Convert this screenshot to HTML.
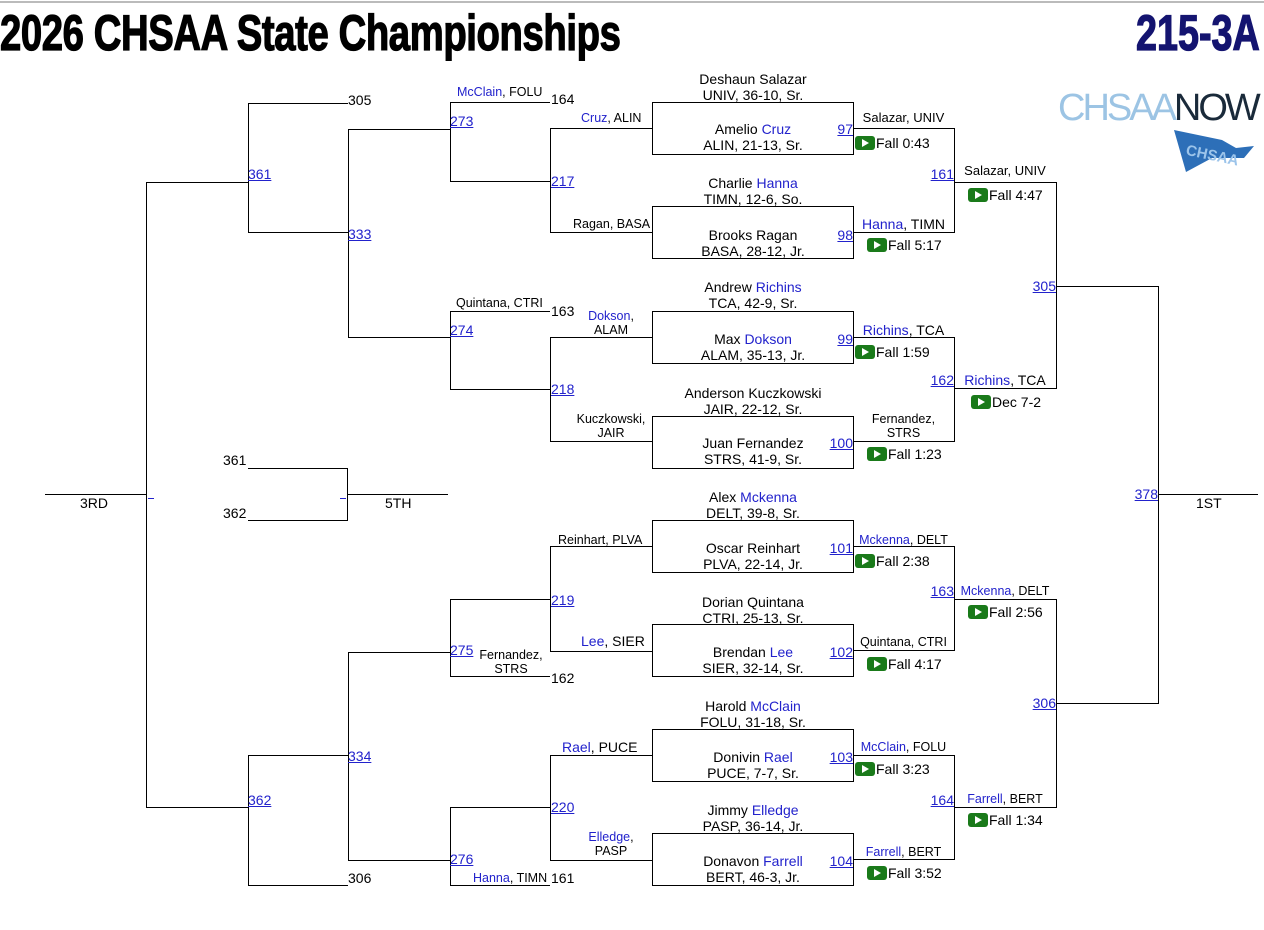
<!DOCTYPE html>
<html><head><meta charset="utf-8"><style>
*{margin:0;padding:0;box-sizing:border-box}
body{width:1264px;height:930px;background:#fff;position:relative;overflow:hidden;font-family:"Liberation Sans",Arial,sans-serif;font-size:14px;color:#000}
.h{position:absolute;height:1px;background:#000}
.v{position:absolute;width:1px;background:#000}
.t{position:absolute;line-height:16px;white-space:nowrap}
.c{text-align:center}
.r{text-align:right}
.s{font-size:12.5px;line-height:14px}
b{font-weight:normal;color:#2222cc}
a{color:#2222cc;text-decoration:underline}
.p{display:inline-block;width:20px;height:14px;background:#1a7a1a;border-radius:3px;position:relative;vertical-align:-2px;margin-right:1px}
.p:after{content:"";position:absolute;left:7px;top:3px;border-left:7px solid #fff;border-top:4px solid transparent;border-bottom:4px solid transparent}
.bx{position:absolute;border:1px solid #000;left:652px;width:202px;height:53px}
.ti{position:absolute;top:6px;font-size:50px;line-height:54px;font-weight:bold;font-family:'Liberation Sans Narrow','Liberation Sans',sans-serif;transform-origin:left;-webkit-text-stroke:1.3px currentColor;white-space:nowrap}
</style></head><body>
<div class="h" style="left:0;top:1px;width:1264px;background:#bbb;height:2px"></div>
<div class="ti" style="left:0;transform:scaleX(0.765);letter-spacing:-0.5px">2026 CHSAA State Championships</div>
<div class="ti" style="left:1136px;color:#141470;transform:scaleX(0.755)">215-3A</div>
<div class="t" style="left:1058px;top:88px;font-size:38px;line-height:40px;letter-spacing:-3px"><span style="color:#9cc4e4">CHSAA</span><span style="color:#1a2a3a">NOW</span></div>
<svg style="position:absolute;left:1172px;top:128px" width="86" height="46"><polygon points="2,2 50,12 64,20 82,18 72,30 40,30 14,44" fill="#2d6fb8"/><text x="14" y="30" font-family="Liberation Sans" font-weight="bold" font-size="15" fill="#9cc4ea" transform="rotate(12 30 25)">CHSAA</text></svg>

<!-- boxes -->
<div class="bx" style="top:102px"></div><div class="bx" style="top:206px"></div><div class="bx" style="top:311px"></div><div class="bx" style="top:416px"></div>
<div class="bx" style="top:520px"></div><div class="bx" style="top:624px"></div><div class="bx" style="top:729px"></div><div class="bx" style="top:833px"></div>

<!-- box texts -->
<div class="t c" style="left:652px;width:202px;top:71px">Deshaun Salazar</div><div class="t c" style="left:652px;width:202px;top:87px">UNIV, 36-10, Sr.</div>
<div class="t c" style="left:652px;width:202px;top:121px">Amelio <b>Cruz</b></div><div class="t c" style="left:652px;width:202px;top:137px">ALIN, 21-13, Sr.</div>
<div class="t c" style="left:652px;width:202px;top:175px">Charlie <b>Hanna</b></div><div class="t c" style="left:652px;width:202px;top:191px">TIMN, 12-6, So.</div>
<div class="t c" style="left:652px;width:202px;top:227px">Brooks Ragan</div><div class="t c" style="left:652px;width:202px;top:243px">BASA, 28-12, Jr.</div>
<div class="t c" style="left:652px;width:202px;top:279px">Andrew <b>Richins</b></div><div class="t c" style="left:652px;width:202px;top:295px">TCA, 42-9, Sr.</div>
<div class="t c" style="left:652px;width:202px;top:331px">Max <b>Dokson</b></div><div class="t c" style="left:652px;width:202px;top:347px">ALAM, 35-13, Jr.</div>
<div class="t c" style="left:652px;width:202px;top:385px">Anderson Kuczkowski</div><div class="t c" style="left:652px;width:202px;top:401px">JAIR, 22-12, Sr.</div>
<div class="t c" style="left:652px;width:202px;top:435px">Juan Fernandez</div><div class="t c" style="left:652px;width:202px;top:451px">STRS, 41-9, Sr.</div>
<div class="t c" style="left:652px;width:202px;top:489px">Alex <b>Mckenna</b></div><div class="t c" style="left:652px;width:202px;top:505px">DELT, 39-8, Sr.</div>
<div class="t c" style="left:652px;width:202px;top:540px">Oscar Reinhart</div><div class="t c" style="left:652px;width:202px;top:556px">PLVA, 22-14, Jr.</div>
<div class="t c" style="left:652px;width:202px;top:594px">Dorian Quintana</div><div class="t c" style="left:652px;width:202px;top:610px">CTRI, 25-13, Sr.</div>
<div class="t c" style="left:652px;width:202px;top:644px">Brendan <b>Lee</b></div><div class="t c" style="left:652px;width:202px;top:660px">SIER, 32-14, Sr.</div>
<div class="t c" style="left:652px;width:202px;top:698px">Harold <b>McClain</b></div><div class="t c" style="left:652px;width:202px;top:714px">FOLU, 31-18, Sr.</div>
<div class="t c" style="left:652px;width:202px;top:749px">Donivin <b>Rael</b></div><div class="t c" style="left:652px;width:202px;top:765px">PUCE, 7-7, Sr.</div>
<div class="t c" style="left:652px;width:202px;top:802px">Jimmy <b>Elledge</b></div><div class="t c" style="left:652px;width:202px;top:818px">PASP, 36-14, Jr.</div>
<div class="t c" style="left:652px;width:202px;top:853px">Donavon <b>Farrell</b></div><div class="t c" style="left:652px;width:202px;top:869px">BERT, 46-3, Jr.</div>

<!-- match numbers -->
<div class="t r" style="left:800px;width:53px;top:121px"><a>97</a></div>
<div class="t r" style="left:800px;width:53px;top:227px"><a>98</a></div>
<div class="t r" style="left:800px;width:53px;top:331px"><a>99</a></div>
<div class="t r" style="left:800px;width:53px;top:435px"><a>100</a></div>
<div class="t r" style="left:800px;width:53px;top:540px"><a>101</a></div>
<div class="t r" style="left:800px;width:53px;top:644px"><a>102</a></div>
<div class="t r" style="left:800px;width:53px;top:749px"><a>103</a></div>
<div class="t r" style="left:800px;width:53px;top:853px"><a>104</a></div>

<!-- round 2 -->
<div class="h" style="left:853px;top:128px;width:102px"></div><div class="h" style="left:853px;top:232px;width:102px"></div><div class="v" style="left:954px;top:128px;height:105px"></div>
<div class="h" style="left:853px;top:337px;width:102px"></div><div class="h" style="left:853px;top:441px;width:102px"></div><div class="v" style="left:954px;top:337px;height:105px"></div>
<div class="h" style="left:853px;top:546px;width:102px"></div><div class="h" style="left:853px;top:650px;width:102px"></div><div class="v" style="left:954px;top:546px;height:105px"></div>
<div class="h" style="left:853px;top:755px;width:102px"></div><div class="h" style="left:853px;top:859px;width:102px"></div><div class="v" style="left:954px;top:755px;height:105px"></div>

<div class="t c s" style="left:853px;width:101px;top:111px;font-size:13px">Salazar, UNIV</div><div class="t" style="left:855px;top:135px"><span class="p"></span>Fall 0:43</div>
<div class="t c" style="left:853px;width:101px;top:216px"><b>Hanna</b>, TIMN</div><div class="t" style="left:867px;top:237px"><span class="p"></span>Fall 5:17</div>
<div class="t c" style="left:853px;width:101px;top:322px"><b>Richins</b>, TCA</div><div class="t" style="left:855px;top:344px"><span class="p"></span>Fall 1:59</div>
<div class="t c s" style="left:853px;width:101px;top:412px">Fernandez,<br>STRS</div><div class="t" style="left:867px;top:446px"><span class="p"></span>Fall 1:23</div>
<div class="t c s" style="left:853px;width:101px;top:533px"><b>Mckenna</b>, DELT</div><div class="t" style="left:855px;top:553px"><span class="p"></span>Fall 2:38</div>
<div class="t c s" style="left:853px;width:101px;top:635px">Quintana, CTRI</div><div class="t" style="left:867px;top:656px"><span class="p"></span>Fall 4:17</div>
<div class="t c s" style="left:853px;width:101px;top:740px"><b>McClain</b>, FOLU</div><div class="t" style="left:855px;top:761px"><span class="p"></span>Fall 3:23</div>
<div class="t c s" style="left:853px;width:101px;top:845px"><b>Farrell</b>, BERT</div><div class="t" style="left:867px;top:865px"><span class="p"></span>Fall 3:52</div>

<div class="t r" style="left:900px;width:54px;top:166px"><a>161</a></div>
<div class="t r" style="left:900px;width:54px;top:372px"><a>162</a></div>
<div class="t r" style="left:900px;width:54px;top:583px"><a>163</a></div>
<div class="t r" style="left:900px;width:54px;top:792px"><a>164</a></div>

<!-- round 3 -->
<div class="h" style="left:954px;top:182px;width:102px"></div><div class="h" style="left:954px;top:388px;width:102px"></div><div class="v" style="left:1056px;top:182px;height:207px"></div>
<div class="h" style="left:954px;top:599px;width:102px"></div><div class="h" style="left:954px;top:807px;width:102px"></div><div class="v" style="left:1056px;top:599px;height:209px"></div>
<div class="t c s" style="left:954px;width:102px;top:164px;font-size:13px">Salazar, UNIV</div><div class="t" style="left:968px;top:187px"><span class="p"></span>Fall 4:47</div>
<div class="t c" style="left:954px;width:102px;top:372px"><b>Richins</b>, TCA</div><div class="t" style="left:971px;top:394px"><span class="p"></span>Dec 7-2</div>
<div class="t c s" style="left:954px;width:102px;top:584px"><b>Mckenna</b>, DELT</div><div class="t" style="left:968px;top:604px"><span class="p"></span>Fall 2:56</div>
<div class="t c s" style="left:954px;width:102px;top:792px"><b>Farrell</b>, BERT</div><div class="t" style="left:968px;top:812px"><span class="p"></span>Fall 1:34</div>
<div class="t r" style="left:1000px;width:56px;top:278px"><a>305</a></div>
<div class="t r" style="left:1000px;width:56px;top:695px"><a>306</a></div>

<!-- final -->
<div class="h" style="left:1056px;top:286px;width:102px"></div><div class="h" style="left:1056px;top:703px;width:102px"></div><div class="v" style="left:1158px;top:286px;height:418px"></div>
<div class="h" style="left:1158px;top:494px;width:100px"></div>
<div class="t r" style="left:1100px;width:58px;top:486px"><a>378</a></div>
<div class="t" style="left:1196px;top:495px">1ST</div>

<!-- consolation top -->
<div class="h" style="left:550px;top:128px;width:102px"></div><div class="h" style="left:550px;top:232px;width:102px"></div><div class="v" style="left:550px;top:128px;height:105px"></div>
<div class="h" style="left:450px;top:181px;width:100px"></div>
<div class="h" style="left:450px;top:102px;width:100px"></div><div class="v" style="left:450px;top:102px;height:80px"></div>
<div class="h" style="left:348px;top:129px;width:102px"></div>
<div class="h" style="left:550px;top:337px;width:102px"></div><div class="h" style="left:550px;top:441px;width:102px"></div><div class="v" style="left:550px;top:337px;height:105px"></div>
<div class="h" style="left:450px;top:389px;width:100px"></div>
<div class="h" style="left:450px;top:311px;width:100px"></div><div class="v" style="left:450px;top:311px;height:79px"></div>
<div class="h" style="left:348px;top:337px;width:102px"></div>
<div class="v" style="left:348px;top:129px;height:209px"></div>
<div class="h" style="left:248px;top:232px;width:100px"></div>
<div class="h" style="left:248px;top:103px;width:100px"></div><div class="v" style="left:248px;top:103px;height:130px"></div>
<div class="h" style="left:146px;top:182px;width:102px"></div>
<div class="v" style="left:146px;top:182px;height:626px"></div>
<div class="h" style="left:45px;top:494px;width:101px"></div>
<div class="h" style="left:148px;top:498px;width:6px;background:#2222cc"></div>
<div class="t" style="left:80px;top:495px">3RD</div>

<div class="t s" style="left:581px;top:111px"><b>Cruz</b>, ALIN</div>
<div class="t s" style="left:573px;top:217px">Ragan, BASA</div>
<div class="t c s" style="left:578px;width:66px;top:309px"><b>Dokson</b>,<br>ALAM</div>
<div class="t c s" style="left:570px;width:82px;top:412px">Kuczkowski,<br>JAIR</div>
<div class="t s" style="left:457px;top:85px"><b>McClain</b>, FOLU</div><div class="t" style="left:551px;top:91px">164</div>
<div class="t s" style="left:456px;top:296px">Quintana, CTRI</div><div class="t" style="left:551px;top:303px">163</div>
<div class="t" style="left:348px;top:92px">305</div>
<div class="t" style="left:450px;top:113px"><a>273</a></div>
<div class="t" style="left:551px;top:173px"><a>217</a></div>
<div class="t" style="left:348px;top:226px"><a>333</a></div>
<div class="t" style="left:450px;top:322px"><a>274</a></div>
<div class="t" style="left:551px;top:381px"><a>218</a></div>
<div class="t" style="left:248px;top:166px"><a>361</a></div>

<!-- 5th -->
<div class="h" style="left:248px;top:468px;width:100px"></div><div class="h" style="left:248px;top:520px;width:100px"></div><div class="v" style="left:347px;top:468px;height:53px"></div>
<div class="h" style="left:348px;top:494px;width:100px"></div>
<div class="h" style="left:340px;top:498px;width:6px;background:#2222cc"></div>
<div class="t" style="left:223px;top:452px">361</div><div class="t" style="left:223px;top:505px">362</div>
<div class="t" style="left:385px;top:495px">5TH</div>

<!-- consolation bottom -->
<div class="h" style="left:550px;top:546px;width:102px"></div><div class="h" style="left:550px;top:651px;width:102px"></div><div class="v" style="left:550px;top:546px;height:106px"></div>
<div class="h" style="left:450px;top:599px;width:100px"></div>
<div class="h" style="left:450px;top:676px;width:100px"></div><div class="v" style="left:450px;top:599px;height:78px"></div>
<div class="h" style="left:348px;top:652px;width:102px"></div>
<div class="h" style="left:550px;top:755px;width:102px"></div><div class="h" style="left:550px;top:860px;width:102px"></div><div class="v" style="left:550px;top:755px;height:106px"></div>
<div class="h" style="left:450px;top:807px;width:100px"></div>
<div class="h" style="left:450px;top:885px;width:100px"></div><div class="v" style="left:450px;top:807px;height:79px"></div>
<div class="h" style="left:348px;top:860px;width:102px"></div>
<div class="v" style="left:348px;top:652px;height:209px"></div>
<div class="h" style="left:248px;top:755px;width:100px"></div>
<div class="h" style="left:248px;top:885px;width:100px"></div><div class="v" style="left:248px;top:755px;height:131px"></div>
<div class="h" style="left:146px;top:807px;width:102px"></div>

<div class="t s" style="left:558px;top:533px">Reinhart, PLVA</div>
<div class="t" style="left:581px;top:633px"><b>Lee</b>, SIER</div>
<div class="t" style="left:562px;top:739px"><b>Rael</b>, PUCE</div>
<div class="t c s" style="left:578px;width:66px;top:830px"><b>Elledge</b>,<br>PASP</div>
<div class="t c s" style="left:472px;width:78px;top:648px">Fernandez,<br>STRS</div><div class="t" style="left:551px;top:670px">162</div>
<div class="t s" style="left:473px;top:871px"><b>Hanna</b>, TIMN</div><div class="t" style="left:551px;top:870px">161</div>
<div class="t" style="left:348px;top:870px">306</div>
<div class="t" style="left:551px;top:592px"><a>219</a></div>
<div class="t" style="left:450px;top:642px"><a>275</a></div>
<div class="t" style="left:348px;top:748px"><a>334</a></div>
<div class="t" style="left:551px;top:799px"><a>220</a></div>
<div class="t" style="left:450px;top:851px"><a>276</a></div>
<div class="t" style="left:248px;top:792px"><a>362</a></div>
</body></html>
